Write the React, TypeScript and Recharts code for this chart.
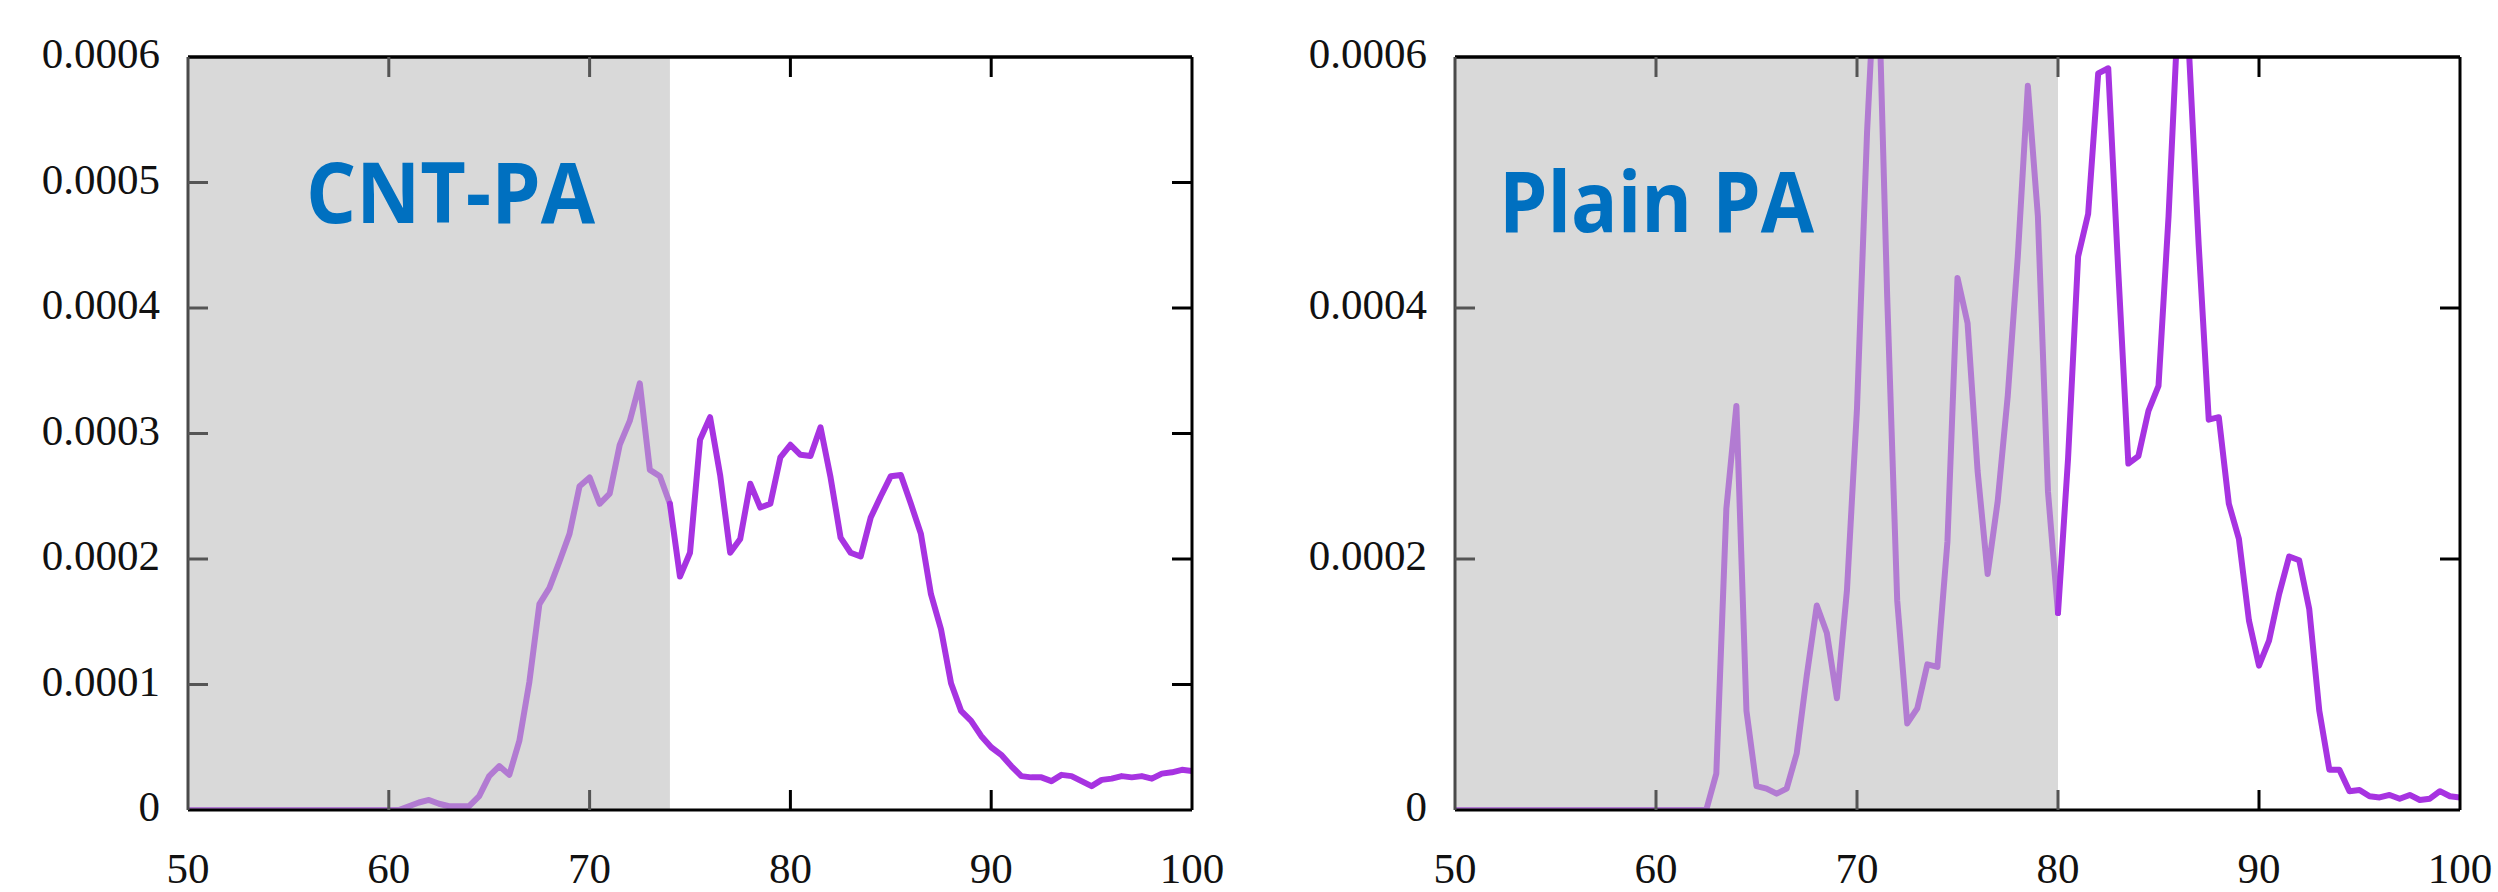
import React from "react";
import { LineChart, Line, XAxis, YAxis, ReferenceArea } from "recharts";

// temperature grid (°C), sampled every 0.5
const TEMPS = [
  50, 50.5, 51, 51.5, 52, 52.5, 53, 53.5, 54, 54.5,
  55, 55.5, 56, 56.5, 57, 57.5, 58, 58.5, 59, 59.5,
  60, 60.5, 61, 61.5, 62, 62.5, 63, 63.5, 64, 64.5,
  65, 65.5, 66, 66.5, 67, 67.5, 68, 68.5, 69, 69.5,
  70, 70.5, 71, 71.5, 72, 72.5, 73, 73.5, 74, 74.5,
  75, 75.5, 76, 76.5, 77, 77.5, 78, 78.5, 79, 79.5,
  80, 80.5, 81, 81.5, 82, 82.5, 83, 83.5, 84, 84.5,
  85, 85.5, 86, 86.5, 87, 87.5, 88, 88.5, 89, 89.5,
  90, 90.5, 91, 91.5, 92, 92.5, 93, 93.5, 94, 94.5,
  95, 95.5, 96, 96.5, 97, 97.5, 98, 98.5, 99, 99.5,
  100,
];

// values in units of 1e-4
const CNT_PA = [
  0, 0, 0, 0, 0, 0, 0, 0, 0, 0,
  0, 0, 0, 0, 0, 0, 0, 0, 0, 0,
  0, 0, 0.03, 0.06, 0.08, 0.05, 0.03, 0.03, 0.03, 0.11,
  0.27, 0.35, 0.28, 0.55, 1.02, 1.64, 1.77, 1.98, 2.2, 2.58,
  2.65, 2.44, 2.52, 2.91, 3.1, 3.4, 2.71, 2.66, 2.44, 1.86,
  2.05, 2.95, 3.13, 2.67, 2.05, 2.16, 2.6, 2.41, 2.44, 2.81,
  2.91, 2.83, 2.82, 3.05, 2.65, 2.17, 2.05, 2.02, 2.33, 2.5,
  2.66, 2.67, 2.44, 2.2, 1.72, 1.44, 1.01, 0.79, 0.71, 0.59,
  0.5, 0.44, 0.35, 0.27, 0.26, 0.26, 0.23, 0.28, 0.27, 0.23,
  0.19, 0.24, 0.25, 0.27, 0.26, 0.27, 0.25, 0.29, 0.3, 0.32,
  0.31,
];

const PLAIN_PA = [
  0, 0, 0, 0, 0, 0, 0, 0, 0, 0,
  0, 0, 0, 0, 0, 0, 0, 0, 0, 0,
  0, 0, 0, 0, 0, 0, 0.29, 2.4, 3.22, 0.79,
  0.19, 0.17, 0.13, 0.17, 0.45, 1.07, 1.63, 1.41, 0.89, 1.75,
  3.2, 5.4, 7.0, 4.1, 1.67, 0.69, 0.81, 1.16, 1.14, 2.14,
  4.24, 3.88, 2.7, 1.88, 2.46, 3.3, 4.41, 5.77, 4.73, 2.54,
  1.57, 2.8, 4.41, 4.75, 5.87, 5.91, 4.29, 2.76, 2.82, 3.18,
  3.38, 4.73, 6.45, 6.1, 4.5, 3.11, 3.13, 2.44, 2.16, 1.51,
  1.15, 1.35, 1.72, 2.02, 1.99, 1.6, 0.79, 0.32, 0.32, 0.15,
  0.16, 0.11, 0.1, 0.12, 0.09, 0.12, 0.08, 0.09, 0.15, 0.11,
  0.1,
];

const X_TICKS = [50, 60, 70, 80, 90, 100];
const X_LABELS = ["50", "60", "70", "80", "90", "100"];
const CNT_Y_TICKS = [0, 1, 2, 3, 4, 5, 6];
const CNT_Y_LABELS = ["0", "0.0001", "0.0002", "0.0003", "0.0004", "0.0005", "0.0006"];
const PA_Y_TICKS = [0, 2, 4, 6];
const PA_Y_LABELS = ["0", "0.0002", "0.0004", "0.0006"];
const CNT_SHADE_END = 74;
const PA_SHADE_END = 80;

const X_MIN = 50;
const X_MAX = 100;
const Y_MAX = 6;

const SERIF = "'Liberation Serif', 'Times New Roman', serif";
const TICK_LEN = 20;
const SHADE_TICK = "#555555";
const INK = "#000000";

interface PanelProps {
  left: number;
  width: number;
  marginLeft: number;
  marginRight: number;
  values: number[];
  shadeEnd: number;
  yTicks: number[];
  yLabels: string[];
}

function Panel({ left, width, marginLeft, marginRight, values, shadeEnd, yTicks, yLabels }: PanelProps) {
  const rows = TEMPS.map((t, i) => ({
    t,
    shaded: t <= shadeEnd ? values[i] : null,
    clear: t >= shadeEnd ? values[i] : null,
  }));

  const inner = (v: number, lo: number, hi: number) => v > lo && v < hi;

  const bottomTick = (p: any) => {
    const v = p.payload.value;
    const col = v <= shadeEnd ? SHADE_TICK : INK;
    return (
      <g>
        {inner(v, X_MIN, X_MAX) && (
          <line x1={p.x} x2={p.x} y1={p.y} y2={p.y - TICK_LEN} stroke={col} strokeWidth={3} />
        )}
        <text x={p.x} y={p.y + 73} textAnchor="middle" fontFamily={SERIF} fontSize={43} fill="#111">
          {X_LABELS[X_TICKS.indexOf(v)]}
        </text>
      </g>
    );
  };

  const topTick = (p: any) => {
    const v = p.payload.value;
    const col = v <= shadeEnd ? SHADE_TICK : INK;
    return <line x1={p.x} x2={p.x} y1={p.y} y2={p.y + TICK_LEN} stroke={col} strokeWidth={3} />;
  };

  const leftTick = (p: any) => {
    const v = p.payload.value;
    return (
      <g>
        {inner(v, 0, Y_MAX) && (
          <line x1={p.x} x2={p.x + TICK_LEN} y1={p.y} y2={p.y} stroke={SHADE_TICK} strokeWidth={3} />
        )}
        <text x={p.x - 28} y={p.y + 11} textAnchor="end" fontFamily={SERIF} fontSize={43} fill="#111">
          {yLabels[yTicks.indexOf(v)]}
        </text>
      </g>
    );
  };

  const rightTick = (p: any) => {
    const v = p.payload.value;
    if (!inner(v, 0, Y_MAX)) return <g />;
    return <line x1={p.x} x2={p.x - TICK_LEN} y1={p.y} y2={p.y} stroke={INK} strokeWidth={3} />;
  };

  return (
    <div style={{ position: "absolute", left, top: 0 }}>
      <LineChart
        width={width}
        height={892}
        data={rows}
        margin={{ top: 47, right: marginRight, bottom: 52, left: marginLeft }}
      >
        <XAxis
          xAxisId="b"
          dataKey="t"
          type="number"
          domain={[X_MIN, X_MAX]}
          allowDataOverflow
          ticks={X_TICKS}
          interval={0}
          height={30}
          tickSize={0}
          tickMargin={0}
          tickLine={false}
          axisLine={{ stroke: INK, strokeWidth: 3 }}
          tick={bottomTick}
        />
        <XAxis
          xAxisId="t"
          orientation="top"
          dataKey="t"
          type="number"
          domain={[X_MIN, X_MAX]}
          allowDataOverflow
          ticks={X_TICKS.filter((v) => inner(v, X_MIN, X_MAX))}
          interval={0}
          height={10}
          tickSize={0}
          tickMargin={0}
          tickLine={false}
          axisLine={{ stroke: INK, strokeWidth: 3.5 }}
          tick={topTick}
        />
        <YAxis
          yAxisId="l"
          type="number"
          domain={[0, Y_MAX]}
          allowDataOverflow
          ticks={yTicks}
          interval={0}
          width={60}
          tickSize={0}
          tickMargin={0}
          tickLine={false}
          axisLine={{ stroke: "#4a4a4a", strokeWidth: 3 }}
          tick={leftTick}
        />
        <YAxis
          yAxisId="r"
          orientation="right"
          type="number"
          domain={[0, Y_MAX]}
          allowDataOverflow
          ticks={yTicks}
          interval={0}
          width={10}
          tickSize={0}
          tickMargin={0}
          tickLine={false}
          axisLine={{ stroke: INK, strokeWidth: 3 }}
          tick={rightTick}
        />
        <ReferenceArea
          xAxisId="b"
          yAxisId="l"
          x1={X_MIN}
          x2={shadeEnd}
          y1={0}
          y2={Y_MAX}
          fill="#d9d9d9"
          fillOpacity={1}
          stroke="none"
        />
        <Line
          xAxisId="b"
          yAxisId="l"
          dataKey="shaded"
          type="linear"
          stroke="#b27bd2"
          strokeWidth={6}
          strokeLinejoin="round"
          strokeLinecap="round"
          dot={false}
          activeDot={false}
          isAnimationActive={false}
        />
        <Line
          xAxisId="b"
          yAxisId="l"
          dataKey="clear"
          type="linear"
          stroke="#a733e1"
          strokeWidth={6}
          strokeLinejoin="round"
          strokeLinecap="round"
          dot={false}
          activeDot={false}
          isAnimationActive={false}
        />
      </LineChart>
    </div>
  );
}

export default function App() {
  return (
    <div style={{ position: "absolute", left: 0, top: 0, width: 2498, height: 892, background: "#fff" }}>
      <Panel
        left={0}
        width={1240}
        marginLeft={128}
        marginRight={38}
        values={CNT_PA}
        shadeEnd={CNT_SHADE_END}
        yTicks={CNT_Y_TICKS}
        yLabels={CNT_Y_LABELS}
      />
      <Panel
        left={1249}
        width={1249}
        marginLeft={146}
        marginRight={28}
        values={PLAIN_PA}
        shadeEnd={PA_SHADE_END}
        yTicks={PA_Y_TICKS}
        yLabels={PA_Y_LABELS}
      />
      <svg
        width={2498}
        height={892}
        style={{ position: "absolute", left: 0, top: 0, pointerEvents: "none" }}
      >
        <text
          x={306}
          y={223}
          fontFamily="'Open Sans', 'Noto Sans', sans-serif"
          fontWeight={700}
          fontSize={85}
          fill="#0070c0"
          textLength={289}
          lengthAdjust="spacingAndGlyphs"
        >
          CNT-PA
        </text>
        <text
          x={1499}
          y={232}
          fontFamily="'Open Sans', 'Noto Sans', sans-serif"
          fontWeight={700}
          fontSize={84}
          fill="#0070c0"
          textLength={315}
          lengthAdjust="spacingAndGlyphs"
        >
          Plain PA
        </text>
      </svg>
    </div>
  );
}
